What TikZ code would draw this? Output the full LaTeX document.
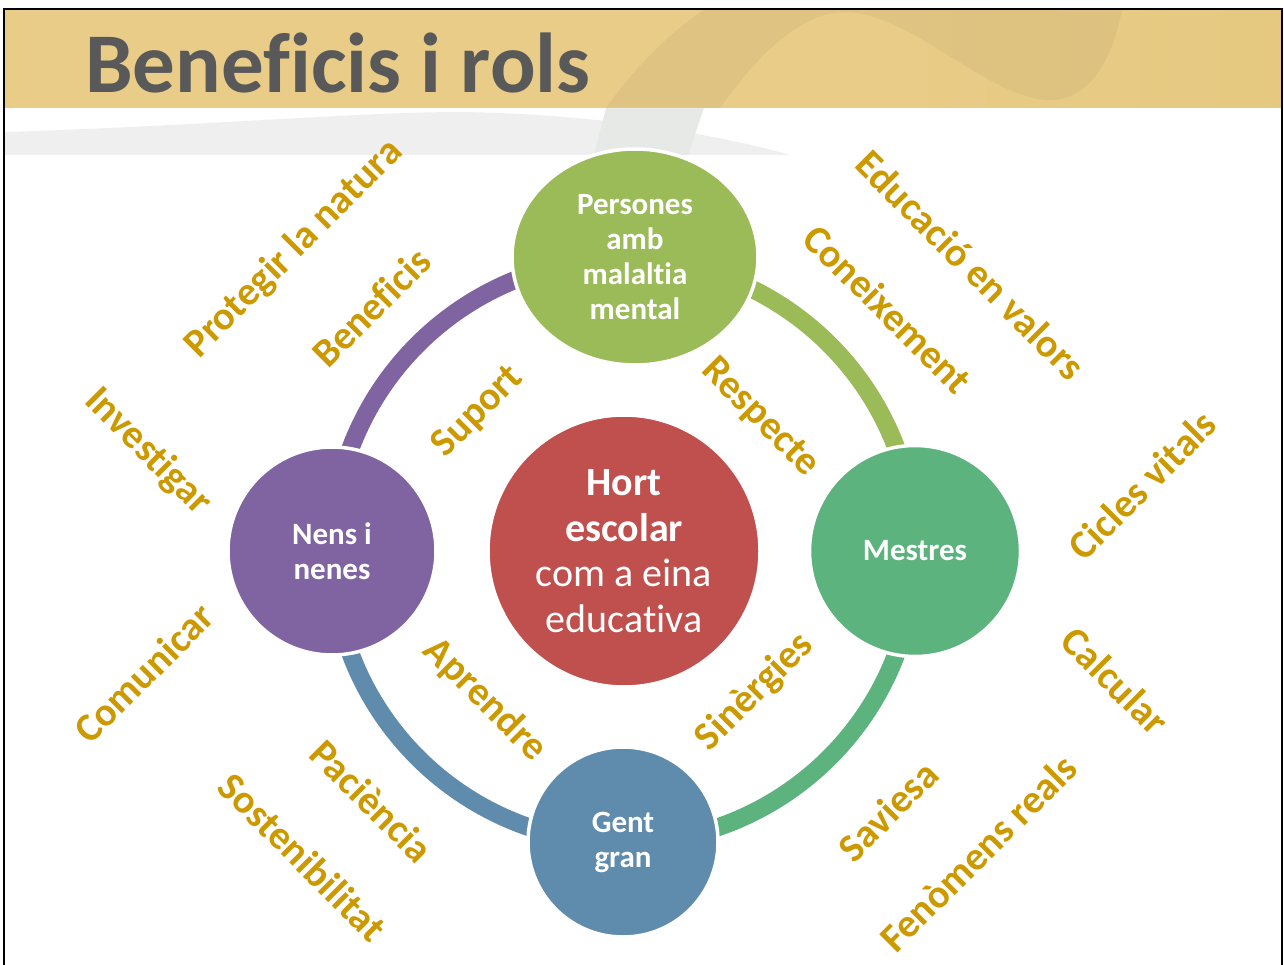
\documentclass[tikz,border=0pt]{standalone}
\usepackage{fontspec}
\setmainfont{Carlito}[RawFeature={-liga;-clig;-dlig}]
\usetikzlibrary{shapes.geometric}
\newcommand{\nolig}{\kern0pt}
\definecolor{gold}{HTML}{CC9A00}
\definecolor{titlec}{HTML}{595959}
\definecolor{hdrD}{HTML}{B8A070}
\definecolor{cPers}{HTML}{9BBB59}
\definecolor{cNens}{HTML}{8064A2}
\definecolor{cHort}{HTML}{C0504D}
\definecolor{cMest}{HTML}{5DB37D}
\definecolor{cGent}{HTML}{5F8BAC}
\definecolor{swoosh}{HTML}{EFEFEF}
\definecolor{swband}{HTML}{E7E9E7}
\pgfdeclarehorizontalshading{hdrshade}{100bp}{%
  color(0bp)=(rgb,255:red,216;green,182;blue,80);
  color(8bp)=(rgb,255:red,224;green,194;blue,112);
  color(25bp)=(rgb,255:red,232;green,204;blue,135);
  color(60bp)=(rgb,255:red,232;green,204;blue,135);
  color(85bp)=(rgb,255:red,228;green,198;blue,124);
  color(100bp)=(rgb,255:red,217;green,181;blue,80)}
\begin{document}
\begin{tikzpicture}[x=1pt,y=-1pt,
  lbl/.style={text=gold,font=\fontsize{40}{48}\selectfont\bfseries,inner sep=0},
  circ/.style={circle,draw=white,line width=3.5pt,inner sep=0,text=white,align=center,
               font=\fontsize{31}{35}\selectfont\bfseries},
  ring/.style={line width=18pt}]
\useasboundingbox (0,0) rectangle (1284,965);
\fill[white] (0,0) rectangle (1284,965);
% header band
\shade[shading=hdrshade] (4,10) rectangle (1282,108);
\fill[hdrD,opacity=0.2] (606,108) .. controls (640,60) and (680,25) .. (704,10) -- (1122,10)
   .. controls (1112,60) and (1090,100) .. (1050,100) .. controls (990,100) and (910,12) .. (845,12)
   .. controls (790,12) and (740,80) .. (720,108) -- cycle;
% swoosh under header
\fill[swoosh] (5,132) .. controls (200,126) and (360,112) .. (460,112)
   .. controls (600,114) and (720,135) .. (790,155) -- (5,155) -- cycle;
\fill[swband] (606,108) -- (704,108) -- (688,155) -- (594,155) -- cycle;
% frame
\draw[black,line width=2pt] (4,965) -- (4,9) -- (1282,9) -- (1282,965);
% title
\node[anchor=base west,text=titlec,font=\fontsize{85}{90}\selectfont\bfseries,inner sep=0] (title) at (85,93) {Benef\nolig icis i rols};
% node positions
\coordinate (ringc) at (624,551);
\path (332,551) coordinate (pNens) (915,551) coordinate (pMest);
% ring arcs
\draw[ring,cNens] (pNens) arc[start angle=180,end angle=270,radius=292];
\draw[ring,cPers] (pMest) arc[start angle=360,end angle=270,radius=292];
\draw[ring,cMest] (pMest) arc[start angle=0,end angle=90,radius=292];
\draw[ring,cGent] (pNens) arc[start angle=180,end angle=90,radius=292];
% circles
\node[circ,ellipse,fill=cPers,minimum width=246pt,minimum height=216pt] (pers) at (635,257) {Persones\\amb\\malalt\nolig ia\\mental};
\node[circ,fill=cNens,minimum size=208pt] (nens) at (pNens) {Nens i\\nenes};
\node[circ,fill=cMest,minimum size=211pt] (mest) at (pMest) {Mestres};
\node[circ,fill=cGent,minimum size=190pt] (gent) at (623,842) {Gent\\gran};
\node[circ,fill=cHort,minimum size=272pt,font=\fontsize{40}{45.5}\selectfont] (hort) at (ringc) {\textbf{Hort}\\\textbf{escolar}\\com a eina\\educat\nolig iva};
% labels
\node[lbl,rotate=45]  (l1)  at (294,249) {Protegir la natura};
\node[lbl,rotate=45]  (l2)  at (371,307) {Benef\nolig icis};
\node[lbl,rotate=-45] (l3)  at (971,265) {Educació en valors};
\node[lbl,rotate=-45] (l4)  at (888,309) {Coneixement};
\node[lbl,rotate=45]  (l5)  at (478,412) {Suport};
\node[lbl,rotate=-45] (l6)  at (760,418) {Respecte};
\node[lbl,rotate=-45] (l7)  at (148,452) {Invest\nolig igar};
\node[lbl,rotate=45]  (l8)  at (1142,485) {Cicles vitals};
\node[lbl,rotate=45]  (l9)  at (144,673) {Comunicar};
\node[lbl,rotate=-45] (l10) at (1115,681) {Calcular};
\node[lbl,rotate=-45] (l11) at (485,700) {Aprendre};
\node[lbl,rotate=45]  (l12) at (755,692) {Sinèrgies};
\node[lbl,rotate=-45] (l13) at (372,801) {Paciència};
\node[lbl,rotate=-45] (l14) at (303,857) {Sostenibilitat};
\node[lbl,rotate=45]  (l15) at (888,811) {Saviesa};
\node[lbl,rotate=45]  (l16) at (978,853) {Fenòmens reals};
\end{tikzpicture}
\end{document}
